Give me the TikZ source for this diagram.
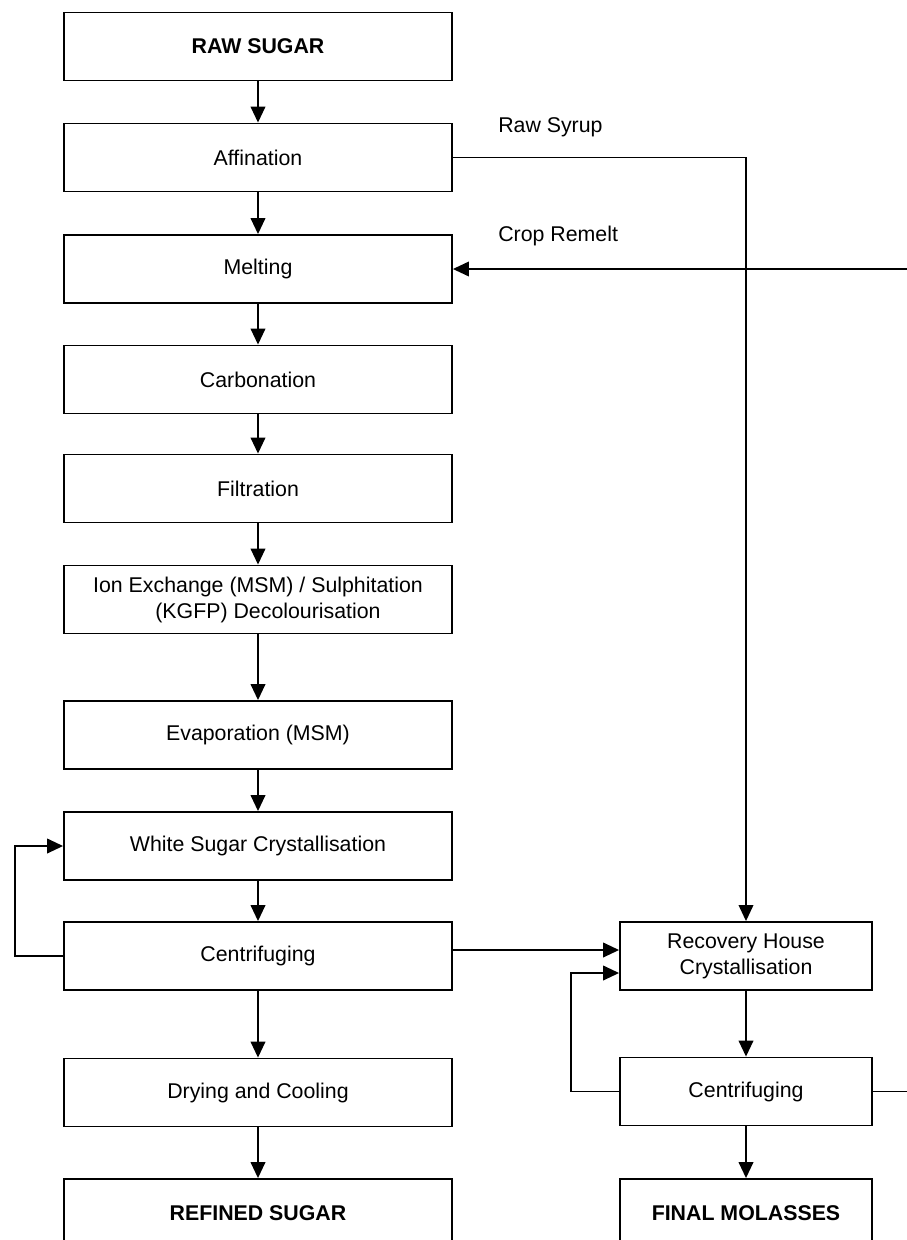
\documentclass[tikz,border=0pt]{standalone}
\usepackage{fontspec}
\setmainfont{Liberation Sans}
\usetikzlibrary{arrows.meta,calc}

\begin{document}
\begin{tikzpicture}[
  x=0.75pt, y=-0.75pt,
  every node/.style={font=\fontsize{16pt}{19.5pt}\selectfont},
  proc/.style={draw, line width=1.4pt, rectangle, minimum width=291pt,
               minimum height=51pt, inner sep=2pt, align=center},
  procR/.style={proc, minimum width=189pt},
  arr/.style={line width=1.3pt, -{Triangle[width=11pt,length=12pt]}},
  thin arr/.style={line width=1.1pt, -{Triangle[width=11pt,length=12pt]}},
  lbl/.style={anchor=west, inner sep=0pt}
]
\useasboundingbox (0,0) rectangle (907,1240);

% main refining line
\node[proc] (raw)  at (258,46.5)   {\textbf{RAW SUGAR}};
\node[proc] (aff)  at (258,157.5)  {Affination};
\node[proc] (melt) at (258,269)    {Melting};
\node[proc] (carb) at (258,379.5)  {Carbonation};
\node[proc] (filt) at (258,488.5)  {Filtration};
\node[proc] (ion)  at (258,599.5)  {Ion Exchange (MSM) / Sulphitation\\\hspace*{15pt}(KGFP) Decolourisation};
\node[proc] (evap) at (258,735)    {Evaporation (MSM)};
\node[proc] (wsc)  at (258,846)    {White Sugar Crystallisation};
\node[proc] (cenA) at (258,956)    {Centrifuging};
\node[proc] (dry)  at (258,1092.5) {Drying and Cooling};
\node[proc] (ref)  at (258,1213)   {\textbf{REFINED SUGAR}};

% recovery house line
\node[procR] (rec)  at (746,956)    {Recovery House\\Crystallisation};
\node[procR] (cenB) at (746,1091.5) {Centrifuging};
\node[procR] (mol)  at (746,1213)   {\textbf{FINAL MOLASSES}};

% stream labels
\node[lbl] (lsyrup)  at (498,127) {Raw Syrup};
\node[lbl] (lremelt) at (498,236) {Crop Remelt};

% straight-through flow
\draw[arr] (raw.south)  -- (aff.north);
\draw[arr] (aff.south)  -- (melt.north);
\draw[arr] (melt.south) -- (carb.north);
\draw[arr] (carb.south) -- (filt.north);
\draw[arr] (filt.south) -- (ion.north);
\draw[arr] (ion.south)  -- (evap.north);
\draw[arr] (evap.south) -- (wsc.north);
\draw[arr] (wsc.south)  -- (cenA.north);
\draw[arr] (cenA.south) -- (dry.north);
\draw[arr] (dry.south)  -- (ref.north);
\draw[arr] (rec.south)  -- (cenB.north);
\draw[arr] (cenB.south) -- (mol.north);

% side streams
\draw[thin arr] (aff.east) -| (rec.north);
\draw[thin arr] (cenB.east) -- ++(45,0) |- (melt.east);
\draw[arr] ($(cenA.east)+(0,-6)$) -- ($(rec.west)+(0,-6)$);
\draw[arr] (cenA.west) -- ++(-48,0) |- (wsc.west);
\draw[arr] (cenB.west) -- ++(-48,0) |- ($(rec.west)+(0,17)$);
\end{tikzpicture}
\end{document}
